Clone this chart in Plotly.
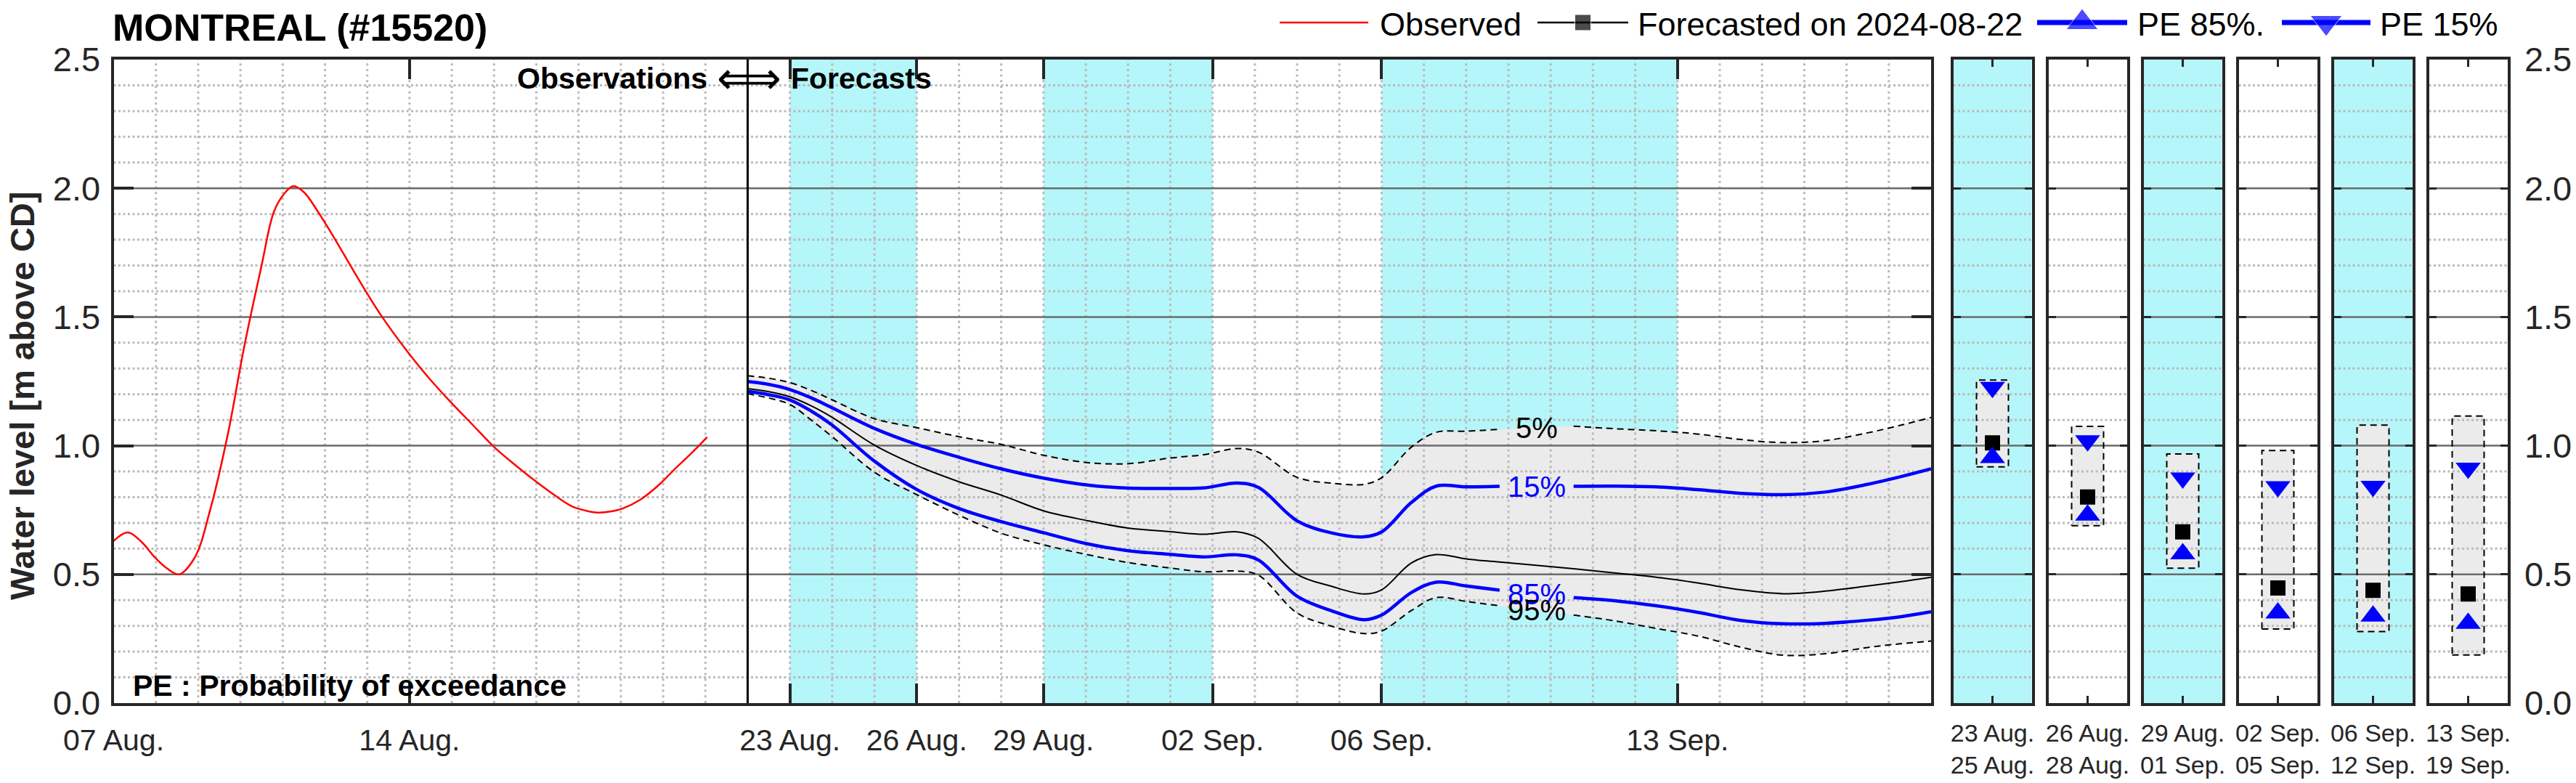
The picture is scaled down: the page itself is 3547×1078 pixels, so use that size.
import numpy as np
import pandas as pd
import plotly.graph_objects as go

# ---------------- data ----------------
station = "MONTREAL (#15520)"
forecast_date = "2024-08-22"

obs_time = ["2024-08-07 00:00", "2024-08-07 08:00", "2024-08-07 16:00", "2024-08-07 23:00",
            "2024-08-08 06:00", "2024-08-08 13:00", "2024-08-08 22:00", "2024-08-09 07:00",
            "2024-08-09 17:00", "2024-08-10 02:00", "2024-08-10 12:00", "2024-08-10 19:00",
            "2024-08-11 01:00", "2024-08-11 06:00", "2024-08-11 12:00", "2024-08-11 20:00",
            "2024-08-12 05:00", "2024-08-12 17:00", "2024-08-13 07:00", "2024-08-14 00:00",
            "2024-08-14 12:00", "2024-08-15 00:00", "2024-08-15 12:00", "2024-08-16 00:00",
            "2024-08-16 12:00", "2024-08-17 00:00", "2024-08-17 12:00", "2024-08-17 20:00",
            "2024-08-18 04:00", "2024-08-18 11:00", "2024-08-18 18:00", "2024-08-19 01:00",
            "2024-08-19 11:00", "2024-08-19 22:00", "2024-08-20 06:00", "2024-08-20 16:00",
            "2024-08-21 01:00"]
obs_level = [0.630, 0.663, 0.625, 0.569, 0.525, 0.500, 0.565, 0.756, 1.05, 1.38, 1.70, 1.909,
             1.98, 2.008, 1.985, 1.909, 1.81, 1.67, 1.515, 1.355, 1.255, 1.165, 1.08, 0.995,
             0.925, 0.86, 0.80, 0.765, 0.748, 0.740, 0.744, 0.756, 0.79, 0.85, 0.905, 0.97, 1.033]

fc_time = ["2024-08-22 00:00", "2024-08-22 12:00", "2024-08-23 00:00", "2024-08-23 12:00",
           "2024-08-24 00:00", "2024-08-25 00:00", "2024-08-26 00:00", "2024-08-27 00:00",
           "2024-08-28 00:00", "2024-08-29 00:00", "2024-08-30 00:00", "2024-08-31 00:00",
           "2024-09-01 00:00", "2024-09-01 19:00", "2024-09-02 14:00", "2024-09-03 02:00",
           "2024-09-04 00:00", "2024-09-04 19:00", "2024-09-05 14:00", "2024-09-06 00:00",
           "2024-09-06 17:00", "2024-09-07 07:00", "2024-09-08 00:00", "2024-09-08 19:00",
           "2024-09-10 13:00", "2024-09-11 12:00", "2024-09-12 12:00", "2024-09-13 12:00",
           "2024-09-14 12:00", "2024-09-15 12:00", "2024-09-16 12:00", "2024-09-17 12:00",
           "2024-09-18 07:00", "2024-09-19 00:00"]
fc_p05 = [1.272, 1.262, 1.245, 1.215, 1.178, 1.105, 1.070, 1.035, 1.005, 0.963, 0.935, 0.930,
          0.952, 0.965, 0.989, 0.975, 0.877, 0.855, 0.850, 0.876, 0.995, 1.052, 1.056, 1.064,
          1.076, 1.066, 1.058, 1.045, 1.024, 1.012, 1.020, 1.050, 1.080, 1.110]
fc_p15 = [1.249, 1.238, 1.218, 1.186, 1.147, 1.067, 1.005, 0.955, 0.910, 0.874, 0.848, 0.835,
          0.834, 0.836, 0.855, 0.838, 0.708, 0.662, 0.646, 0.665, 0.780, 0.843, 0.840, 0.842,
          0.842, 0.843, 0.840, 0.829, 0.815, 0.810, 0.820, 0.850, 0.880, 0.910]
fc_med = [1.222, 1.210, 1.190, 1.155, 1.110, 1.002, 0.923, 0.860, 0.808, 0.747, 0.710, 0.680,
          0.666, 0.656, 0.665, 0.640, 0.500, 0.455, 0.424, 0.440, 0.545, 0.577, 0.560, 0.548,
          0.522, 0.506, 0.489, 0.466, 0.440, 0.425, 0.435, 0.455, 0.472, 0.489]
fc_p85 = [1.211, 1.198, 1.178, 1.135, 1.080, 0.940, 0.830, 0.756, 0.705, 0.662, 0.620, 0.592,
          0.578, 0.568, 0.576, 0.556, 0.415, 0.360, 0.324, 0.342, 0.430, 0.470, 0.455, 0.439,
          0.410, 0.398, 0.378, 0.352, 0.321, 0.308, 0.310, 0.322, 0.336, 0.355]
fc_p95 = [1.202, 1.185, 1.160, 1.100, 1.035, 0.897, 0.810, 0.730, 0.660, 0.615, 0.578, 0.546,
          0.525, 0.510, 0.513, 0.497, 0.350, 0.300, 0.270, 0.280, 0.360, 0.410, 0.395, 0.378,
          0.342, 0.320, 0.290, 0.260, 0.217, 0.186, 0.192, 0.216, 0.231, 0.241]

# inline percentile labels sit in a gap of the lines
label_gap = ["2024-09-08 19:00", "2024-09-10 13:00"]

x_range = ["2024-08-07", "2024-09-19"]
x_tick_dates = ["2024-08-07", "2024-08-14", "2024-08-23", "2024-08-26", "2024-08-29",
                "2024-09-02", "2024-09-06", "2024-09-13"]
x_tick_text = ["07 Aug.", "14 Aug.", "23 Aug.", "26 Aug.", "29 Aug.", "02 Sep.", "06 Sep.", "13 Sep."]
y_ticks = [0.0, 0.5, 1.0, 1.5, 2.0, 2.5]

shade_start = ["2024-08-23", "2024-08-29", "2024-09-06"]
shade_end = ["2024-08-26", "2024-09-02", "2024-09-13"]

period_start = ["23 Aug.", "26 Aug.", "29 Aug.", "02 Sep.", "06 Sep.", "13 Sep."]
period_end = ["25 Aug.", "28 Aug.", "01 Sep.", "05 Sep.", "12 Sep.", "19 Sep."]
period_shaded = [True, False, True, False, True, False]
period_p05 = [1.255, 1.075, 0.968, 0.981, 1.080, 1.115]
period_p15 = [1.227, 1.019, 0.875, 0.841, 0.842, 0.913]
period_med = [1.011, 0.801, 0.665, 0.447, 0.438, 0.424]
period_p85 = [0.954, 0.730, 0.580, 0.350, 0.338, 0.310]
period_p95 = [0.918, 0.689, 0.524, 0.288, 0.278, 0.187]

# ---------------- style / geometry ----------------
W, H = 3547, 1078
FONT = "Liberation Sans, Arial, Helvetica, sans-serif"
DARK = "#262626"
GRID_MINOR = "#bababa"
GRID_MAJOR = "#6b6b6b"
CYAN = "#b4f6f9"
BAND = "#ebebeb"
BLUE = "#0000ff"
RED = "#ff0000"


def px_x(p):
    return p / W


def px_y(p):
    return 1 - p / H


main_dom = [px_x(156.5), px_x(2659)]
y_dom = [px_y(968), px_y(82)]
panel_doms = [[px_x(2689.5 + 131 * i), px_x(2689.5 + 131 * i + 108)] for i in range(6)]

fig = go.Figure()


def add(tr, k):
    ax = "" if k == 1 else str(k)
    tr.update(xaxis="x" + ax, yaxis="y" + ax, showlegend=False, hoverinfo="skip")
    fig.add_trace(tr)


minor_y = [round(0.1 * k, 1) for k in range(1, 25) if k % 5]
major_y = y_ticks[1:-1]


def hlines(x0, x1, vals):
    xs, ys = [], []
    for v in vals:
        xs += [x0, x1, None]
        ys += [v, v, None]
    return xs, ys


def grid_traces(k, x0, x1, vlines=None):
    xs, ys = hlines(x0, x1, minor_y)
    add(go.Scatter(x=xs, y=ys, mode="lines",
                   line=dict(color=GRID_MINOR, width=3, dash="3px,3.5px")), k)
    if vlines is not None:
        xs, ys = [], []
        for d in vlines:
            xs += [d, d, None]
            ys += [y_ticks[0], y_ticks[-1], None]
        add(go.Scatter(x=xs, y=ys, mode="lines",
                       line=dict(color=GRID_MINOR, width=3, dash="3px,4.7px")), k)
    xs, ys = hlines(x0, x1, major_y)
    add(go.Scatter(x=xs, y=ys, mode="lines", line=dict(color=GRID_MAJOR, width=2.5)), k)


# label gap
t_num = pd.to_datetime(fc_time).astype("int64").to_numpy()
gap_num = pd.to_datetime(label_gap).astype("int64").to_numpy()
mid_num = gap_num.mean()
label_mid = pd.Timestamp(int(mid_num)).strftime("%Y-%m-%d %H:%M")


def with_gap(vals):
    xs, ys = [], []
    for t, v in zip(fc_time, vals):
        xs.append(t)
        ys.append(v)
        if t == label_gap[0]:
            xs.append(label_mid)
            ys.append(None)
    return xs, ys


# ---------------- main plot ----------------
for s, e in zip(shade_start, shade_end):
    fig.add_shape(type="rect", xref="x", yref="y domain", x0=s, x1=e, y0=0, y1=1,
                  fillcolor=CYAN, line_width=0, layer="below")

add(go.Scatter(x=fc_time, y=fc_p05, mode="lines", line=dict(width=0, shape="spline")), 1)
add(go.Scatter(x=fc_time, y=fc_p95, mode="lines", line=dict(width=0, shape="spline"),
               fill="tonexty", fillcolor=BAND), 1)

days = pd.date_range(x_range[0], x_range[1], freq="D")[1:-1].strftime("%Y-%m-%d").tolist()
grid_traces(1, x_range[0], x_range[1], vlines=days)

for vals in (fc_p05, fc_p95):
    xs, ys = with_gap(vals)
    add(go.Scatter(x=xs, y=ys, mode="lines", connectgaps=False,
                   line=dict(color="black", width=2, dash="9px,6px", shape="spline")), 1)
add(go.Scatter(x=fc_time, y=fc_med, mode="lines",
               line=dict(color="black", width=2, shape="spline")), 1)
for vals in (fc_p15, fc_p85):
    xs, ys = with_gap(vals)
    add(go.Scatter(x=xs, y=ys, mode="lines", connectgaps=False,
                   line=dict(color=BLUE, width=4.5, shape="spline")), 1)
add(go.Scatter(x=obs_time, y=obs_level, mode="lines",
               line=dict(color=RED, width=2.5, shape="spline")), 1)

fig.add_shape(type="line", xref="x", yref="y domain", x0=forecast_date, x1=forecast_date,
              y0=0, y1=1, line=dict(color="black", width=3), layer="above")

for txt, vals, col in (("5%", fc_p05, "black"), ("15%", fc_p15, BLUE),
                       ("85%", fc_p85, BLUE), ("95%", fc_p95, "black")):
    yv = float(np.interp(mid_num, t_num, vals))
    fig.add_annotation(x=label_mid, y=yv, xref="x", yref="y", text=txt, showarrow=False,
                       xanchor="center", yanchor="middle", font=dict(size=40, color=col))

# ---------------- period panels ----------------
bw = 22 / 108
for i in range(6):
    k = i + 2
    if period_shaded[i]:
        fig.add_shape(type="rect", xref=f"x{k} domain", yref=f"y{k} domain", x0=0, x1=1,
                      y0=0, y1=1, fillcolor=CYAN, line_width=0, layer="below")
    bx = [0.5 - bw, 0.5 + bw, 0.5 + bw, 0.5 - bw, 0.5 - bw]
    by = [period_p95[i], period_p95[i], period_p05[i], period_p05[i], period_p95[i]]
    add(go.Scatter(x=bx, y=by, mode="lines", fill="toself", fillcolor=BAND,
                   line=dict(width=0)), k)
    grid_traces(k, 0, 1)
    add(go.Scatter(x=bx, y=by, mode="lines",
                   line=dict(color="black", width=2, dash="9px,6px")), k)
    add(go.Scatter(x=[0.5], y=[period_med[i]], mode="markers",
                   marker=dict(symbol="square", size=21, color="black")), k)
    add(go.Scatter(x=[0.5], y=[period_p15[i]], mode="markers",
                   marker=dict(symbol="triangle-down", size=30, color=BLUE)), k)
    add(go.Scatter(x=[0.5], y=[period_p85[i]], mode="markers",
                   marker=dict(symbol="triangle-up", size=30, color=BLUE)), k)

# ---------------- custom legend (pixel overlay axis) ----------------
LEG_Y = 31
legend_items = [
    ("Observed", RED, 2.5, None, 0, 1762, 1884, 1898),
    ("Forecasted on " + forecast_date, "black", 2.5, "square", 22, 2117, 2242, 2253),
    ("PE 85%.", BLUE, 7, "triangle-up", 38, 2805, 2929, 2941),
    ("PE 15%", BLUE, 7, "triangle-down", 38, 3142, 3264, 3275),
]
for name, col, lw, sym, msz, x0, x1, xt in legend_items:
    if sym is None:
        add(go.Scatter(x=[x0, x1], y=[LEG_Y, LEG_Y], mode="lines",
                       line=dict(color=col, width=lw)), 8)
    else:
        add(go.Scatter(x=[x0, (x0 + x1) / 2, x1], y=[LEG_Y] * 3, mode="lines+markers",
                       line=dict(color=col, width=lw),
                       marker=dict(symbol=sym, size=[0, msz, 0], color=col)), 8)
    fig.add_annotation(x=px_x(xt), y=px_y(33), xref="paper", yref="paper", text=name,
                       showarrow=False, xanchor="left", yanchor="middle",
                       font=dict(size=45, color="black"))

# ---------------- texts ----------------
fig.add_annotation(x=px_x(153), y=px_y(38), xref="paper", yref="paper",
                   text="<b>" + station + "</b>", showarrow=False, xanchor="left",
                   yanchor="middle", font=dict(size=52, color="black"))
fig.add_annotation(x=px_x(30), y=px_y(545), xref="paper", yref="paper",
                   text="<b>Water level [m above CD]</b>", showarrow=False, textangle=-90,
                   xanchor="center", yanchor="middle", font=dict(size=47, color=DARK))
fig.add_annotation(x=px_x(976), y=px_y(108), xref="paper", yref="paper",
                   text="<b>Observations</b>", showarrow=False, xanchor="right",
                   yanchor="middle", font=dict(size=41, color="black"))
fig.add_annotation(x=px_x(1031), y=px_y(108), xref="paper", yref="paper",
                   text="\u27fa", showarrow=False, xanchor="center",
                   yanchor="middle", font=dict(size=62, color="black"))
fig.add_annotation(x=px_x(1087), y=px_y(108), xref="paper", yref="paper",
                   text="<b>Forecasts</b>", showarrow=False, xanchor="left",
                   yanchor="middle", font=dict(size=41, color="black"))
fig.add_annotation(x=px_x(181), y=px_y(944), xref="paper", yref="paper",
                   text="<b>PE : Probability of exceedance</b>", showarrow=False,
                   xanchor="left", yanchor="middle", font=dict(size=41, color="black"))

# ---------------- axes ----------------
common = dict(showline=True, linewidth=4, linecolor=DARK, mirror="ticks", ticks="inside",
              tickcolor=DARK, showgrid=False, zeroline=False, fixedrange=True,
              automargin=False)
layout_axes = {}
layout_axes["xaxis"] = dict(common, domain=main_dom, anchor="y", type="date", range=x_range,
                            tickvals=x_tick_dates, ticktext=x_tick_text, ticklen=27,
                            tickwidth=3.5, ticklabelstandoff=12,
                            tickfont=dict(size=41, color=DARK))
layout_axes["yaxis"] = dict(common, domain=y_dom, anchor="x", range=[0, 2.5],
                            tickvals=y_ticks, ticktext=[f"{v:.1f}" for v in y_ticks],
                            ticklen=27, tickwidth=3.5, ticklabelstandoff=5,
                            tickfont=dict(size=47, color=DARK))
for i in range(6):
    k = i + 2
    layout_axes[f"xaxis{k}"] = dict(common, domain=panel_doms[i], anchor=f"y{k}", range=[0, 1],
                                    tickvals=[0.5],
                                    ticktext=[period_start[i] + "<br>" + period_end[i]],
                                    ticklen=10, tickwidth=3, ticklabelstandoff=8,
                                    tickfont=dict(size=34, color=DARK))
    layout_axes[f"yaxis{k}"] = dict(common, domain=y_dom, anchor=f"x{k}", range=[0, 2.5],
                                    tickvals=y_ticks,
                                    ticktext=[f"{v:.1f}" for v in y_ticks],
                                    showticklabels=(i == 5), side="right" if i == 5 else "left",
                                    ticklen=10, tickwidth=3, ticklabelstandoff=10,
                                    tickfont=dict(size=47, color=DARK))
layout_axes["xaxis8"] = dict(domain=[0, 1], anchor="y8", range=[0, W], visible=False,
                             fixedrange=True, automargin=False)
layout_axes["yaxis8"] = dict(domain=[0, 1], anchor="x8", range=[H, 0], visible=False,
                             fixedrange=True, automargin=False)

fig.update_layout(width=W, height=H, autosize=False,
                  margin=dict(l=0, r=0, t=0, b=0, pad=0),
                  paper_bgcolor="white", plot_bgcolor="rgba(0,0,0,0)",
                  font=dict(family=FONT, color=DARK), showlegend=False,
                  **layout_axes)

fig.write_html("out.html", config={"displayModeBar": False},
               post_script="document.body.style.margin='0';document.body.style.overflow='hidden';")
